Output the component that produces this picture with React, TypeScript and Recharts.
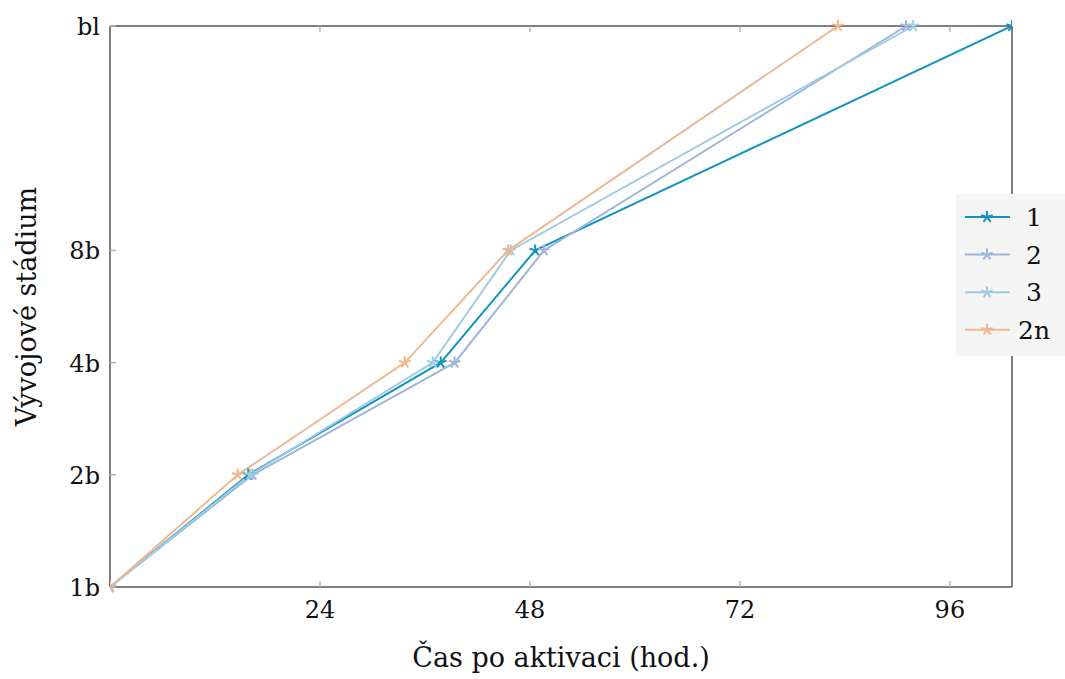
import { Line, LineChart, XAxis, YAxis } from "recharts";

// stages on the y axis (1b, 2b, 4b, 8b, blastocyst)
const stageLabels = ["1b", "2b", "4b", "8b", "bl"];
const stageLevels = [0, 1, 2, 3, 5];
const hourTicks = [24, 48, 72, 96];

// hours after activation at which each stage was reached
const hours1 = [0, 15.8, 37.8, 48.6, 103.1];
const hours2 = [0, 16.3, 39.4, 49.6, 91.0];
const hours3 = [0, 16.0, 36.9, 45.8, 91.8];
const hours2n = [0, 14.6, 33.7, 45.5, 83.2];

const seriesNames = ["1", "2", "3", "2n"];
const seriesColors = ["#1294bf", "#9db6da", "#9fcbe3", "#f0b78e"];

const FONT = "'DejaVu Serif', serif";
const FRAME = "#555555";
const TICK = "#b5b5b5";

const toPoints = (hours: number[]) => hours.map((h, i) => ({ x: h, y: stageLevels[i] }));
const series = [hours1, hours2, hours3, hours2n].map(toPoints);

const starPath = (cx: number, cy: number, r: number) => {
    let d = "";
    for (let k = 0; k < 5; k++) {
        const a = -Math.PI / 2 + (k * 2 * Math.PI) / 5;
        d += `M${cx},${cy}L${cx + r * Math.cos(a)},${cy + r * Math.sin(a)}`;
    }
    return d;
};

const StarDot = (color: string) => (props: any) => {
    const { cx, cy, index } = props;
    if (cx == null || cy == null) return <g key={index} />;
    return <path key={index} d={starPath(cx, cy, 6)} stroke={color} strokeWidth={2} fill="none" />;
};

const BottomTick = ({ x, y, payload }: any) => (
    <g>
        <line x1={x} x2={x} y1={y} y2={y - 6} stroke={TICK} strokeWidth={1.5} />
        <text x={x} y={y + 31} textAnchor="middle" fontFamily={FONT} fontSize={24} fill="#111">
            {payload.value}
        </text>
    </g>
);

const TopTick = ({ x, y }: any) => (
    <line x1={x} x2={x} y1={y} y2={y + 6} stroke={TICK} strokeWidth={1.5} />
);

const LeftTick = ({ x, y, payload }: any) => {
    const idx = stageLevels.indexOf(payload.value);
    return (
        <g>
            <line x1={x} x2={x + 6} y1={y} y2={y} stroke={TICK} strokeWidth={1.5} />
            <text x={x - 10} y={y + 9} textAnchor="end" fontFamily={FONT} fontSize={24} fill="#111">
                {stageLabels[idx]}
            </text>
        </g>
    );
};

const RightTick = ({ x, y }: any) => (
    <line x1={x} x2={x - 6} y1={y} y2={y} stroke={TICK} strokeWidth={1.5} />
);

const LegendBox = () => (
    <svg width={112} height={162} style={{ display: "block" }}>
        <rect x={0} y={0} width={112} height={162} fill="#f5f5f5" />
        {seriesNames.map((name, i) => {
            const cy = 23 + i * 37.6;
            return (
                <g key={name}>
                    <line x1={9} x2={54} y1={cy} y2={cy} stroke={seriesColors[i]} strokeWidth={2} />
                    <path d={starPath(31, cy, 6)} stroke={seriesColors[i]} strokeWidth={2} fill="none" />
                    <text x={name.length > 1 ? 62 : 70} y={cy + 9} fontFamily={FONT} fontSize={25} fill="#111">
                        {name}
                    </text>
                </g>
            );
        })}
    </svg>
);

const App = () => {
    return (
        <div style={{ position: "absolute", left: 0, top: 0, width: 1065, height: 679, background: "#fff" }}>
            <LineChart width={1065} height={679} margin={{ top: 25, right: 52, bottom: 0, left: 0 }}>
                <XAxis
                    xAxisId="b"
                    type="number"
                    dataKey="x"
                    domain={[0, 103.1]}
                    ticks={hourTicks}
                    height={92}
                    axisLine={{ stroke: FRAME, strokeWidth: 1.5 }}
                    tickLine={false}
                    tickSize={0}
                    tickMargin={0}
                    tick={BottomTick}
                    allowDataOverflow
                    label={{
                        value: "Čas po aktivaci (hod.)",
                        position: "insideBottom",
                        offset: 12,
                        fontFamily: FONT,
                        fontSize: 27,
                        fill: "#111",
                    }}
                />
                <XAxis
                    xAxisId="t"
                    orientation="top"
                    type="number"
                    dataKey="x"
                    domain={[0, 103.1]}
                    ticks={hourTicks}
                    height={1}
                    axisLine={{ stroke: FRAME, strokeWidth: 1.5 }}
                    tickLine={false}
                    tickSize={0}
                    tickMargin={0}
                    tick={TopTick}
                    allowDataOverflow
                />
                <YAxis
                    yAxisId="l"
                    type="number"
                    dataKey="y"
                    domain={[0, 5]}
                    ticks={stageLevels}
                    width={110}
                    axisLine={{ stroke: FRAME, strokeWidth: 1.5 }}
                    tickLine={false}
                    tickSize={0}
                    tickMargin={0}
                    tick={LeftTick}
                    label={{
                        value: "Vývojové stádium",
                        angle: -90,
                        position: "insideLeft",
                        offset: 26,
                        style: { textAnchor: "middle" },
                        fontFamily: FONT,
                        fontSize: 27,
                        fill: "#111",
                    }}
                />
                <YAxis
                    yAxisId="r"
                    orientation="right"
                    type="number"
                    dataKey="y"
                    domain={[0, 5]}
                    ticks={stageLevels}
                    width={1}
                    axisLine={{ stroke: FRAME, strokeWidth: 1.5 }}
                    tickLine={false}
                    tickSize={0}
                    tickMargin={0}
                    tick={RightTick}
                />
                {series.map((pts, i) => (
                    <Line
                        key={seriesNames[i]}
                        xAxisId="b"
                        yAxisId="l"
                        data={pts}
                        dataKey="y"
                        name={seriesNames[i]}
                        type="linear"
                        stroke={seriesColors[i]}
                        strokeWidth={2}
                        dot={StarDot(seriesColors[i])}
                        activeDot={false}
                        isAnimationActive={false}
                    />
                ))}
            </LineChart>
            <div style={{ position: "absolute", left: 956, top: 194 }}>
                <LegendBox />
            </div>
        </div>
    );
};

export default App;
